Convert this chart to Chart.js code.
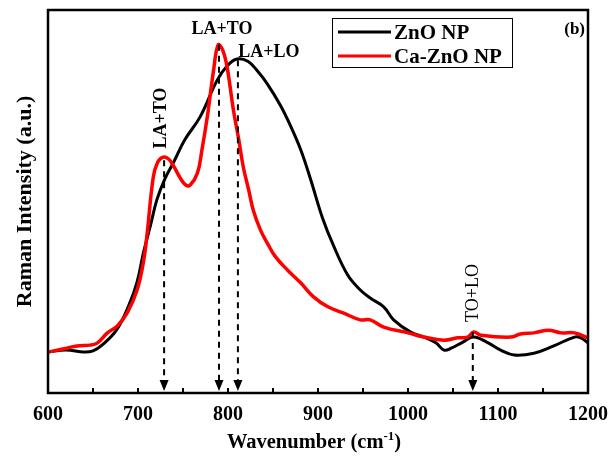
<!DOCTYPE html>
<html>
<head>
<meta charset="utf-8">
<script src="https://cdn.jsdelivr.net/npm/chart.js@4"></script>
<style>
  html, body { margin: 0; padding: 0; background: #fff; }
  #wrap { width: 608px; height: 457px; }
</style>
</head>
<body>
<div id="wrap"><canvas id="graph" width="608" height="457"></canvas></div>
<script>
// ZnO NP spectrum (wavenumber, intensity a.u.)
const znoWave = [600, 620, 640, 650, 660, 676, 690, 699, 706, 714, 721, 730, 739, 752, 769, 788, 799, 810, 822, 833, 844, 858, 869, 881, 892, 905, 917, 933, 947, 958, 973, 984, 1003, 1020, 1031, 1040, 1048, 1061, 1073, 1089, 1103, 1118, 1140, 1162, 1185, 1192, 1200];
const znoInt = [10.7, 11.2, 10.7, 11.0, 12.5, 16.4, 23.0, 29.0, 36.6, 43.9, 50.5, 56.0, 60.0, 66.1, 72.1, 81.7, 85.4, 87.2, 86.6, 84.0, 80.6, 75.2, 70.0, 63.4, 55.6, 45.7, 38.6, 30.8, 26.9, 24.8, 22.5, 19.1, 15.9, 14.4, 13.1, 11.2, 11.7, 13.3, 14.6, 13.1, 11.2, 9.9, 10.4, 12.3, 14.6, 14.4, 13.1];

// Ca-ZnO NP spectrum
const caWave = [600, 621, 632, 647, 655, 666, 677, 688, 699, 706, 710, 717, 722, 728, 734, 739, 747, 753, 758, 766, 771, 777, 784, 789, 794, 799, 806, 812, 817, 823, 828, 836, 844, 852, 866, 881, 895, 911, 928, 947, 958, 973, 1000, 1018, 1040, 1055, 1066, 1073, 1081, 1114, 1125, 1140, 1156, 1170, 1185, 1200];
const caInt = [10.7, 11.7, 12.3, 12.5, 13.1, 15.7, 17.5, 20.9, 26.9, 34.2, 41.3, 56.4, 60.3, 61.6, 61.1, 59.5, 56.1, 54.3, 54.3, 57.4, 63.4, 72.1, 84.3, 90.9, 89.6, 85.1, 73.9, 66.1, 59.0, 53.0, 47.8, 42.6, 39.0, 35.8, 32.1, 28.7, 25.1, 22.5, 20.9, 19.1, 19.1, 17.2, 15.7, 14.6, 13.8, 14.4, 14.6, 15.9, 15.1, 14.6, 15.4, 15.7, 16.4, 15.7, 15.7, 14.4];

// peak assignments: arrow position and where the dashed line starts
const peakWave = [729, 790, 811, 1072];
const peakTop = [60.8, 90.9, 86.9, 15.9];
const peakNames = ["LA+TO", "LA+TO", "LA+LO", "TO+LO"];

const xTicks = [600, 700, 800, 900, 1000, 1100, 1200];
const xMinorTicks = [650, 750, 850, 950, 1050, 1150];

const SERIF = '"Liberation Serif", "Times New Roman", serif';

function toPoints(xs, ys) {
  return xs.map((x, i) => ({ x: x, y: ys[i] }));
}

// label placement relative to each arrow (pixels)
const peakLabelStyle = [
  { dx: -4, y: 118, rot: true, bold: true },
  { dx: 3, y: 28, rot: false, bold: true },
  { dx: 31, y: 51, rot: false, bold: true },
  { dx: -1, y: 293, rot: true, bold: false }
];

const decorations = {
  id: "decorations",
  afterDatasetsDraw(chart) {
    const ctx = chart.ctx;
    const area = chart.chartArea;
    const xs = chart.scales.x;
    const ys = chart.scales.y;
    ctx.save();

    // inward ticks on bottom axis
    ctx.strokeStyle = "#000";
    ctx.lineWidth = 2;
    xTicks.concat(xMinorTicks).forEach((v) => {
      const px = Math.round(xs.getPixelForValue(v));
      ctx.beginPath();
      ctx.moveTo(px, area.bottom);
      ctx.lineTo(px, area.bottom - 5);
      ctx.stroke();
    });

    // dashed arrows down to the axis
    peakWave.forEach((w, i) => {
      const px = xs.getPixelForValue(w);
      const top = ys.getPixelForValue(peakTop[i]);
      const tip = area.bottom - 2;
      ctx.setLineDash([6, 5]);
      ctx.lineWidth = 2;
      ctx.beginPath();
      ctx.moveTo(px, top);
      ctx.lineTo(px, tip - 9);
      ctx.stroke();
      ctx.setLineDash([]);
      ctx.fillStyle = "#000";
      ctx.beginPath();
      ctx.moveTo(px - 4.5, tip - 11);
      ctx.lineTo(px + 4.5, tip - 11);
      ctx.lineTo(px, tip);
      ctx.closePath();
      ctx.fill();

      const st = peakLabelStyle[i];
      ctx.font = (st.bold ? "bold " : "") + "18px " + SERIF;
      ctx.textAlign = "center";
      ctx.textBaseline = "middle";
      ctx.save();
      ctx.translate(px + st.dx, st.y);
      if (st.rot) ctx.rotate(-Math.PI / 2);
      ctx.fillText(peakNames[i], 0, 1);
      ctx.restore();
    });

    // frame
    ctx.lineWidth = 2.5;
    ctx.strokeRect(area.left, area.top, area.right - area.left, area.bottom - area.top);

    // legend
    ctx.lineWidth = 1;
    ctx.strokeRect(332.5, 18.5, 180, 49);
    chart.data.datasets.forEach((ds, i) => {
      const y = 32 + i * 24;
      ctx.strokeStyle = ds.borderColor;
      ctx.lineWidth = 3;
      ctx.beginPath();
      ctx.moveTo(338, y);
      ctx.lineTo(391, y);
      ctx.stroke();
      ctx.fillStyle = "#000";
      ctx.font = "bold 21px " + SERIF;
      ctx.textAlign = "left";
      ctx.textBaseline = "alphabetic";
      ctx.fillText(ds.label, 394, y + 7);
    });

    // panel tag
    ctx.font = "bold 17px " + SERIF;
    ctx.textAlign = "right";
    ctx.fillText("(b)", 585, 34);

    // x title with superscript
    const main = "Wavenumber (cm";
    const sup = "-1";
    ctx.font = "bold 20.5px " + SERIF;
    const w1 = ctx.measureText(main).width;
    const w3 = ctx.measureText(")").width;
    ctx.font = "bold 13px " + SERIF;
    const w2 = ctx.measureText(sup).width;
    let x0 = 314 - (w1 + w2 + w3) / 2;
    ctx.textAlign = "left";
    ctx.font = "bold 20.5px " + SERIF;
    ctx.fillText(main, x0, 448);
    ctx.font = "bold 13px " + SERIF;
    ctx.fillText(sup, x0 + w1, 440);
    ctx.font = "bold 20.5px " + SERIF;
    ctx.fillText(")", x0 + w1 + w2, 448);

    ctx.restore();
  }
};

const config = {
  type: "line",
  data: {
    datasets: [
      {
        label: "ZnO NP",
        data: toPoints(znoWave, znoInt),
        borderColor: "#000000",
        borderWidth: 3,
        pointRadius: 0,
        tension: 0.4,
        order: 2
      },
      {
        label: "Ca-ZnO NP",
        data: toPoints(caWave, caInt),
        borderColor: "#ff0000",
        borderWidth: 3.5,
        pointRadius: 0,
        tension: 0.4,
        order: 1
      }
    ]
  },
  options: {
    responsive: false,
    animation: false,
    layout: { padding: { left: 0, right: 20, top: 10, bottom: 0 } },
    plugins: { legend: { display: false }, tooltip: { enabled: false } },
    scales: {
      x: {
        type: "linear",
        min: 600,
        max: 1200,
        afterBuildTicks: (s) => { s.ticks = xTicks.map((v) => ({ value: v })); },
        afterFit: (s) => { s.height = 64; s.paddingLeft = 0; s.paddingRight = 0; },
        grid: { display: false, drawTicks: false },
        border: { display: false },
        ticks: {
          color: "#000",
          padding: 10,
          maxRotation: 0,
          autoSkip: false,
          callback: (v) => String(v),
          font: { family: SERIF, size: 20, weight: "bold" }
        }
      },
      y: {
        min: 0,
        max: 100,
        afterFit: (s) => { s.width = 48; },
        grid: { display: false, drawTicks: false },
        border: { display: false },
        ticks: { display: false },
        title: {
          display: true,
          text: "Raman Intensity (a.u.)",
          color: "#000",
          padding: { top: 12, bottom: 0 },
          font: { family: SERIF, size: 22, weight: "bold" }
        }
      }
    }
  },
  plugins: [decorations]
};

new Chart(document.getElementById("graph"), config);
</script>
</body>
</html>
